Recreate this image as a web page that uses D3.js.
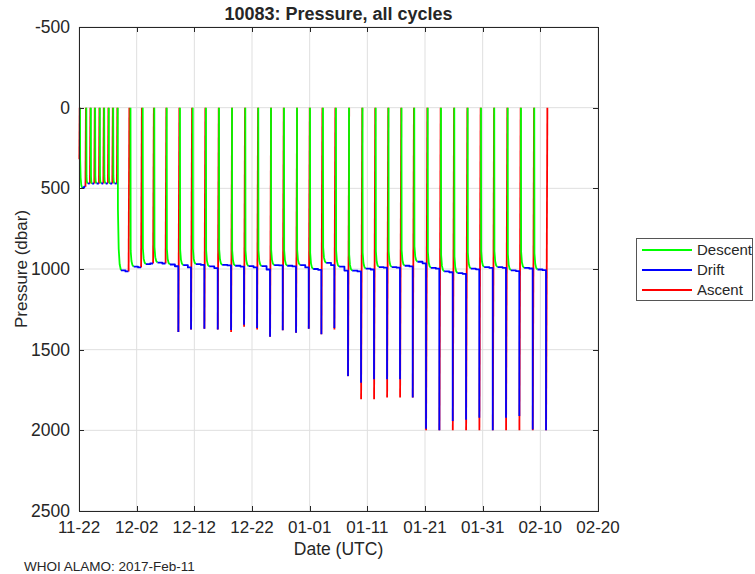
<!DOCTYPE html>
<html>
<head>
<meta charset="utf-8">
<script src="https://cdn.jsdelivr.net/npm/d3@7"></script>
<style>
  body { margin: 0; background: #fff; }
  svg { display: block; }
  text { font-family: "Liberation Sans", Arial, Helvetica, sans-serif; fill: #262626; }
</style>
</head>
<body>
<svg id="chart" width="755" height="574"></svg>
<script>
// ====
// DATA
// ====

const startDate = Date.UTC(2016, 10, 22);   // day 0 = 2016-11-22 00:00 UTC
const xTickLabels = ["11-22", "12-02", "12-12", "12-22", "01-01", "01-11", "01-21", "01-31", "02-10", "02-20"];
const xTickDays = [0, 10, 20, 30, 40, 50, 60, 70, 80, 90];
const yTicks = [-500, 0, 500, 1000, 1500, 2000, 2500];

// one entry per cycle, times in days since 2016-11-22
// cycle 0 is only the short test ascent at launch
const descentDay = [null, 0.17, 1.27, 2.05, 2.80, 3.61, 4.37, 5.17, 5.93, 6.72,
  8.93, 11.05, 13.06, 15.21, 17.51, 19.72, 22.02, 24.28, 26.53, 28.84,
  31.09, 33.29, 35.55, 37.80, 40.06, 42.31, 44.56, 46.82, 49.16, 51.45,
  53.67, 55.92, 58.14, 60.47, 62.77, 65.08, 67.40, 69.71, 72.01, 74.34,
  76.64, 78.95];
const ascentDay = [0.04, 1.10, 1.88, 2.63, 3.44, 4.20, 5.00, 5.76, 6.55, 8.58,
  10.75, 12.83, 15.00, 17.22, 19.42, 21.73, 24.05, 26.36, 28.61, 30.87,
  33.12, 35.32, 37.63, 39.83, 42.02, 44.27, 46.64, 48.90, 51.15, 53.41,
  55.66, 57.86, 60.17, 62.48, 64.80, 67.11, 69.41, 71.74, 74.04, 76.35,
  78.67, 80.98];
// drift pressure at start and end of the park phase (dbar)
const parkStart = [null, 497, 470, 471, 470, 469, 470, 471, 470, 1008,
  985, 970, 960, 972, 976, 970, 984, 975, 980, 982,
  982, 976, 980, 976, 1000, 962, 985, 1010, 998, 988,
  988, 980, 955, 993, 1015, 1025, 998, 988, 988, 1008,
  993, 1003];
const parkEnd = [null, 490, 470, 470, 471, 470, 469, 470, 470, 1015,
  990, 966, 966, 983, 990, 975, 994, 978, 985, 990,
  1003, 978, 984, 990, 1005, 976, 1010, 1015, 1003, 992,
  992, 984, 965, 998, 1020, 1030, 1002, 993, 993, 1013,
  997, 1007];
// deepest drift sample before the profile (null = profile starts at park)
const driftBottom = [null, null, null, null, null, null, null, null, null, null,
  null, null, null, 1391, 1375, 1371, 1375, 1378, 1345, 1365,
  1420, 1379, 1395, 1370, 1405, 1365, 1664, 1705, 1684, 1684,
  1684, 1797, 1990, 2000, 1942, 1935, 1922, 2000, 1922, 1911,
  1995, 2000];
// first ascent sample (dbar)
const ascentBottom = [320, 490, 470, 470, 471, 470, 469, 470, 470, 1015,
  990, 966, 966, 1391, 1375, 1371, 1375, 1390, 1358, 1375,
  1420, 1379, 1395, 1370, 1405, 1375, 1664, 1808, 1808, 1797,
  1797, 1797, 2000, 2000, 2000, 2000, 2000, 2000, 2000, 2000,
  2000, 2000];
// cycles whose descent slowed down early (pressure where it slowed)
const slowKnee = { 1: 320, 9: 630 };

const seriesNames = ["Descent", "Drift", "Ascent"];
const seriesColors = ["#00ff00", "#0000ff", "#ff0000"];

// ======
// LAYOUT
// ======

const svg = d3.select("#chart");
const plot = { left: 79, right: 598, top: 27, bottom: 511 };
const dayToDate = d => new Date(startDate + d * 864e5);

const x = d3.scaleUtc()
  .domain([dayToDate(0), dayToDate(90)])
  .range([plot.left, plot.right]);
const y = d3.scaleLinear()
  .domain([-500, 2500])
  .range([plot.top, plot.bottom]);

// grid
const grid = svg.append("g").attr("stroke", "#dfdfdf").attr("stroke-width", 1);
grid.selectAll(".gx").data(xTickDays).enter().append("line")
  .attr("x1", d => x(dayToDate(d))).attr("x2", d => x(dayToDate(d)))
  .attr("y1", plot.top).attr("y2", plot.bottom);
grid.selectAll(".gy").data(yTicks).enter().append("line")
  .attr("x1", plot.left).attr("x2", plot.right)
  .attr("y1", d => y(d)).attr("y2", d => y(d));

// ===========
// CYCLE LINES
// ===========

const line = d3.line().x(d => x(dayToDate(d[0]))).y(d => y(d[1]));

const descents = [], drifts = [], ascents = [];
for (let i = 0; i < ascentDay.length; i++) {
  const D = descentDay[i], A = ascentDay[i];
  if (D !== null) {
    const park = parkStart[i];
    const knee = slowKnee[i] !== undefined ? slowKnee[i] : park * 0.9;
    const len = Math.min(0.55, 0.4 * (A - D));
    descents.push([
      [D, 0], [D + 0.03, knee],
      [D + len * 0.3, park - 0.35 * (park - knee)],
      [D + len * 0.6, park - 0.1 * (park - knee)],
      [D + len, park]
    ]);
    const s = D + len, mid = s + 0.6 * (A - s);
    const dr = [[s, parkStart[i]], [mid, parkStart[i]], [mid, parkEnd[i]], [A, parkEnd[i]]];
    if (driftBottom[i] !== null) dr.push([A + 0.01, driftBottom[i]]);
    drifts.push(dr);
  }
  const up = 0.04 + 0.18 * ascentBottom[i] / 2000;
  ascents.push([[A + 0.02, ascentBottom[i]], [A + 0.02 + up, 0]]);
}

const lines = svg.append("g")
  .attr("fill", "none")
  .attr("stroke-width", 1.8)
  .attr("stroke-linejoin", "round");

lines.selectAll(".asc").data(ascents).enter().append("path")
  .attr("class", "asc").attr("stroke", seriesColors[2]).attr("d", line);
lines.selectAll(".desc").data(descents).enter().append("path")
  .attr("class", "desc").attr("stroke", seriesColors[0]).attr("d", line);
lines.selectAll(".drift").data(drifts).enter().append("path")
  .attr("class", "drift").attr("stroke", seriesColors[1]).attr("d", line);

// ====
// AXES
// ====

const axisColor = "#262626";
const axes = svg.append("g").attr("stroke", axisColor).attr("stroke-width", 1);
axes.append("rect")
  .attr("x", plot.left + 0.5).attr("y", plot.top + 0.5)
  .attr("width", plot.right - plot.left).attr("height", plot.bottom - plot.top)
  .attr("fill", "none");

// inward ticks on all four sides
const tk = 5;
xTickDays.forEach(d => {
  const px = Math.round(x(dayToDate(d))) + 0.5;
  axes.append("line").attr("x1", px).attr("x2", px).attr("y1", plot.bottom).attr("y2", plot.bottom - tk);
  axes.append("line").attr("x1", px).attr("x2", px).attr("y1", plot.top).attr("y2", plot.top + tk);
});
yTicks.forEach(v => {
  const py = Math.round(y(v)) + 0.5;
  axes.append("line").attr("x1", plot.left).attr("x2", plot.left + tk).attr("y1", py).attr("y2", py);
  axes.append("line").attr("x1", plot.right).attr("x2", plot.right - tk).attr("y1", py).attr("y2", py);
});

svg.append("g").selectAll("text").data(xTickDays).enter().append("text")
  .attr("x", d => x(dayToDate(d)))
  .attr("y", plot.bottom + 22)
  .attr("text-anchor", "middle")
  .style("font-size", "17px")
  .text((d, i) => xTickLabels[i]);

svg.append("g").selectAll("text").data(yTicks).enter().append("text")
  .attr("x", plot.left - 9)
  .attr("y", d => y(d) + 6)
  .attr("text-anchor", "end")
  .style("font-size", "17.5px")
  .text(d => d);

svg.append("text")
  .attr("x", (plot.left + plot.right) / 2).attr("y", 20)
  .attr("text-anchor", "middle")
  .style("font-size", "18px").style("font-weight", "bold")
  .text("10083: Pressure, all cycles");

svg.append("text")
  .attr("x", (plot.left + plot.right) / 2).attr("y", 555)
  .attr("text-anchor", "middle")
  .style("font-size", "17.5px")
  .text("Date (UTC)");

svg.append("text")
  .attr("transform", `translate(27,${(plot.top + plot.bottom) / 2}) rotate(-90)`)
  .attr("text-anchor", "middle")
  .style("font-size", "17px")
  .text("Pressure (dbar)");

svg.append("text")
  .attr("x", 24).attr("y", 571)
  .style("font-size", "13.5px")
  .text("WHOI ALAMO: 2017-Feb-11");

// ======
// LEGEND
// ======

const legend = svg.append("g").attr("transform", "translate(636,238)");
legend.append("rect")
  .attr("x", 0.5).attr("y", 0.5).attr("width", 116).attr("height", 62)
  .attr("fill", "#fff").attr("stroke", "#555");
seriesNames.forEach((name, i) => {
  legend.append("line")
    .attr("x1", 6).attr("x2", 56)
    .attr("y1", 12 + i * 20).attr("y2", 12 + i * 20)
    .attr("stroke", seriesColors[i]).attr("stroke-width", 1.8);
  legend.append("text")
    .attr("x", 61).attr("y", 17 + i * 20)
    .style("font-size", "15px")
    .text(name);
});
</script>
</body>
</html>
